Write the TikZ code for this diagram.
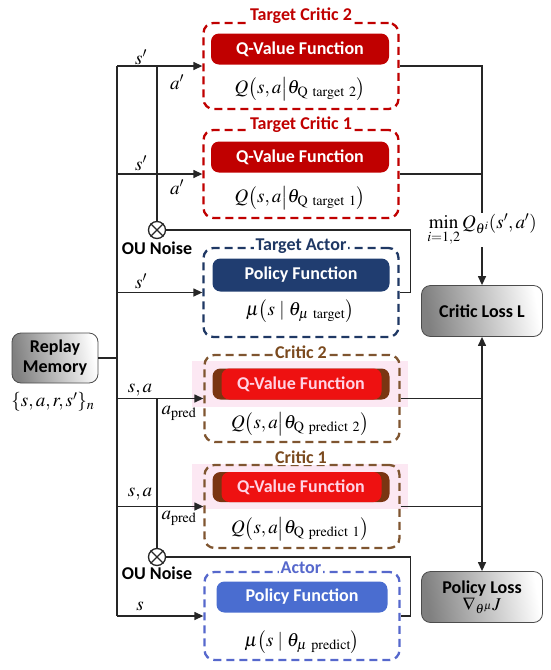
\documentclass[tikz,border=0pt]{standalone}
\usepackage{mathptmx}
\usepackage[no-math]{fontspec}
\setmainfont{Liberation Serif}
\newfontfamily\lblfamily{Carlito}
\newcommand\lbl{\lblfamily\bfseries\fontsize{18}{20}\selectfont}
\usetikzlibrary{arrows.meta,calc}
\definecolor{tcred}{HTML}{C00000}
\definecolor{tanavy}{HTML}{1F3864}
\definecolor{tafill}{HTML}{203D70}
\definecolor{cbrown}{HTML}{7F5530}
\definecolor{cbrowntitle}{HTML}{7B4A1E}
\definecolor{critred}{HTML}{EE1111}
\definecolor{critend}{HTML}{7A3512}
\definecolor{acblue}{HTML}{5668CC}
\definecolor{acfill}{HTML}{4A6DD0}
\definecolor{pinkhaze}{HTML}{FCE8F3}
\definecolor{crittext}{HTML}{FFD3E4}
\begin{document}
\begin{tikzpicture}[x=1pt,y=-1pt,
  conn/.style={line width=1.3pt, draw=black!85},
  arr/.style={conn, -{Triangle[length=9pt,width=8pt]}},
  grp/.style={draw=#1, line width=2.3pt, dash pattern=on 8pt off 5pt, rounded corners=10pt, minimum width=195pt, inner sep=0pt},
  bar/.style={fill=#1, rounded corners=8pt, minimum width=178pt, minimum height=31pt, inner sep=0pt, text=white, font=\lbl},
  cbar/.style={fill=critend, rounded corners=8pt, minimum width=177pt, minimum height=31pt, inner sep=0pt, text=crittext, font=\lbl,
    path picture={\fill[critred] ($(path picture bounding box.north west)+(9pt,0)$) rectangle ($(path picture bounding box.south east)+(-8pt,0)$);}},
  ttl/.style={fill=white, inner sep=2pt, text=#1, font=\lbl},
  fml/.style={font=\fontsize{19}{22}\selectfont, inner sep=0pt},
  graybox/.style={draw=black!70, line width=0.8pt, rounded corners=9pt, left color=black!50, right color=white, shading angle=100, minimum width=121pt, minimum height=51pt, font=\lbl, align=center, inner sep=0pt},
  noise/.style={circle, draw=black!85, line width=1.3pt, minimum size=17pt, inner sep=0pt},
  lab/.style={font=\fontsize{19}{22}\selectfont, inner sep=1pt},
  nlab/.style={font=\lbl, inner sep=1pt}
]
\useasboundingbox (0,0) rectangle (550,670);
% pink haze behind critic bars
\fill[pinkhaze] (192,361) rectangle (408,407);
\fill[pinkhaze] (192,464) rectangle (408,509);
% groups
\node[grp=tcred, minimum height=86pt] (tc2) at (301,66) {};
\node[grp=tcred, minimum height=88pt] (tc1) at (301,174) {};
\node[grp=tanavy, minimum height=89pt] (ta) at (301,292.5) {};
\node[grp=cbrown, minimum height=87pt] (c2) at (302,398.5) {};
\node[grp=cbrown, minimum height=83pt] (c1) at (302,506.5) {};
\node[grp=acblue, minimum height=88pt] (ac) at (302,616) {};
% titles
\node[ttl=tcred] (tc2t) at (301,16) {Target Critic 2};
\node[ttl=tcred] (tc1t) at (301,125) {Target Critic 1};
\node[ttl=tanavy] (tat) at (301,246) {Target Actor};
\node[ttl=cbrowntitle] (c2t) at (301,352) {Critic 2};
\node[ttl=cbrowntitle] (c1t) at (301,457) {Critic 1};
\node[ttl=acblue] (act) at (301,568) {Actor};
% bars
\node[bar=tcred] (tc2b) at (300,49) {Q-Value Function};
\node[bar=tcred] (tc1b) at (300,157) {Q-Value Function};
\node[bar=tafill, minimum width=177pt, minimum height=33pt] (tab) at (301,275) {Policy Function};
\node[cbar] (c2b) at (301,384) {Q-Value Function};
\node[cbar, minimum height=30pt] (c1b) at (301,487) {Q-Value Function};
\node[bar=acfill, minimum width=171pt] (acb) at (302,597) {Policy Function};
% formulas
\node[fml] (tc2f) at (300,89) {$Q\bigl(s,a\big|\theta_{\mathrm{Q\ target\ 2}}\bigr)$};
\node[fml] (tc1f) at (300,198) {$Q\bigl(s,a\big|\theta_{\mathrm{Q\ target\ 1}}\bigr)$};
\node[fml] (taf) at (300,311) {$\mu\bigl(s\mid\theta_{\mu\ \mathrm{target}}\bigr)$};
\node[fml] (c2f) at (300,424) {$Q\bigl(s,a\big|\theta_{\mathrm{Q\ predict\ 2}}\bigr)$};
\node[fml] (c1f) at (300,529) {$Q\bigl(s,a\big|\theta_{\mathrm{Q\ predict\ 1}}\bigr)$};
\node[fml] (acf) at (302,642) {$\mu\bigl(s\mid\theta_{\mu\ \mathrm{predict}}\bigr)$};
% replay memory
\node[graybox, minimum width=86pt, minimum height=50pt] (rm) at (55,358) {Replay\\Memory};
\node[lab] (rmf) at (53,402) {$\{s,a,r,s'\}_n$};
\coordinate (spine) at (117,0);
\draw[conn] (spine |- tc2.west) -- (spine |- ac.west);
\draw[conn] (rm.east) -- (rm.east -| spine);
\foreach \b in {tc2,tc1,ta,c2,c1,ac} \draw[arr] (spine |- \b.west) -- (\b.west);
% OU noise nodes
\node[noise] (n1) at (157,230) {};
\draw[conn] (n1.north west) -- (n1.south east) (n1.north east) -- (n1.south west);
\node[nlab] (n1l) at (157,248) {OU Noise};
\draw[conn] (n1.north) -- (n1 |- tc2.west);
\draw[conn] (n1.east) -| ($(ta.east)+(11,0)$) -- (ta.east);
\node[noise] (n2) at (157,557) {};
\draw[conn] (n2.north west) -- (n2.south east) (n2.north east) -- (n2.south west);
\node[nlab] (n2l) at (157,573) {OU Noise};
\draw[conn] (n2.north) -- (n2 |- c2.west);
\draw[conn] (n2.east) -| ($(ac.east)+(10,0)$) -- (ac.east);
% edge labels
\node[lab] (l1) at (141,57) {$s'$};
\node[lab] (l2) at (177,82) {$a'$};
\node[lab] (l3) at (141,163) {$s'$};
\node[lab] (l4) at (177,187) {$a'$};
\node[lab] (l5) at (141,281) {$s'$};
\node[lab] (l6) at (140,390) {$s,a$};
\node[lab] (l7) at (179,413) {$a_{\mathrm{pred}}$};
\node[lab] (l8) at (140,494) {$s,a$};
\node[lab] (l9) at (179,518) {$a_{\mathrm{pred}}$};
\node[lab] (l10) at (140,606) {$s$};
% right side
\node[lab] (minq) at (482,230) {$\min\limits_{i=1,2} Q_{\theta^i}(s',a')$};
\draw[conn] (tc2.east) -| (minq.north);
\draw[conn] (tc1.east) -- (tc1.east -| minq.north);
\node[graybox] (closs) at (482,311) {Critic Loss L};
\draw[arr] (minq.south) -- (closs.north);
\node[graybox] (ploss) at (482,597) {Policy Loss\\[-3pt]$\nabla_{\theta^\mu} J$};
\draw[conn, {Triangle[length=9pt,width=8pt]}-{Triangle[length=9pt,width=8pt]}] (closs.south) -- (ploss.north);
\draw[conn] (c2.east) -- (c2.east -| closs.south);
\draw[conn] (c1.east) -- (c1.east -| closs.south);
\end{tikzpicture}
\end{document}
